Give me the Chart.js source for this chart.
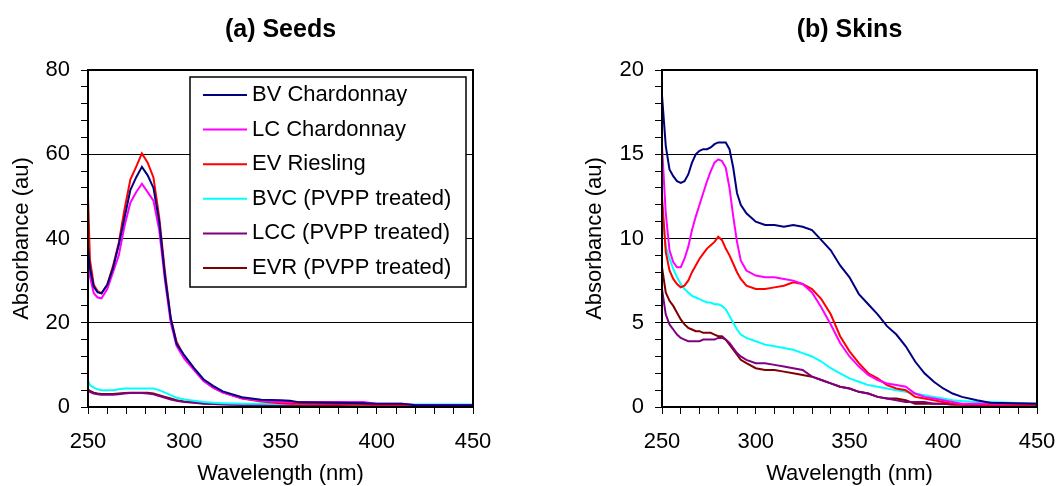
<!DOCTYPE html>
<html>
<head>
<meta charset="utf-8">
<script src="https://cdn.jsdelivr.net/npm/chart.js@4.4.1/dist/chart.umd.min.js"></script>
<style>
body{margin:0;background:#fff;width:1057px;height:486px;overflow:hidden;position:relative}
canvas{position:absolute;top:0}
</style>
</head>
<body>
<canvas id="seeds" width="520" height="486" style="left:0"></canvas>
<canvas id="skins" width="517" height="486" style="left:540px"></canvas>
<script>
// series names (legend)
const names = ['BV Chardonnay', 'LC Chardonnay', 'EV Riesling', 'BVC (PVPP treated)', 'LCC (PVPP treated)', 'EVR (PVPP treated)'];
const colors = ['#000080', '#ff00ff', '#ff0000', '#00ffff', '#800080', '#800000'];

// (a) Seeds - wavelength (nm) / absorbance (au)
const seedWl  = [250,251,253,255,257,260,263,266,269,272,275,278,281,284,287,290,293,296,300,305,310,315,320,330,340,350,355,360,380,393,400,413,420,450];
const seedBV  = [38,33,28.5,27.2,27,29,33,38.5,45,51.5,54.5,57,55,52,44,31,21,15,12.3,9.3,6.6,5,3.7,2.3,1.7,1.6,1.5,1.1,1.0,0.9,0.8,0.8,0.4,0.4];
const seedLC  = [37,31,27,26,25.8,28,32,36,43,48.5,51,53,51,49,42,30,20,14.5,11.5,8.8,6.2,4.6,3.4,2.1,1.5,1.2,1.2,1.2,1.2,1.2,0.8,0.8,0.5,0.5];
const seedEV  = [50,35,29,27.5,27,29,33.5,39,47,54,57,60.2,58,54.5,45,32,21,15.5,12,9,6.3,4.6,3.5,2.0,1.3,0.9,0.8,0.8,0.7,0.6,0.5,0.4,0.3,0.3];
const seedBVC = [6.3,5.2,4.6,4.2,4.0,4.0,4.0,4.2,4.4,4.4,4.4,4.4,4.4,4.4,4.0,3.4,2.8,2.2,1.8,1.5,1.2,1.0,0.9,0.8,0.8,0.7,0.7,0.7,0.7,0.6,0.6,0.6,0.6,0.6];
const seedLCC = [4.0,3.6,3.2,3.0,2.9,2.9,2.9,3.0,3.2,3.3,3.3,3.3,3.2,3.0,2.6,2.2,1.8,1.5,1.2,1.0,0.8,0.7,0.6,0.5,0.4,0.3,0.3,0.3,0.3,0.3,0.2,0.2,0.2,0.2];
const seedEVR = [4.2,3.8,3.4,3.2,3.1,3.1,3.1,3.2,3.3,3.4,3.4,3.4,3.4,3.2,2.8,2.4,2.0,1.6,1.3,1.1,0.9,0.8,0.7,0.6,0.5,0.4,0.4,0.4,0.3,0.3,0.3,0.3,0.3,0.3];

// (b) Skins
const skinWl  = [250,252,254,256,258,260,262,264,266,268,270,272,274,276,278,280,282,284,286,288,290,292,295,300,305,310,315,320,325,330,335,340,345,350,355,360,365,370,375,380,385,390,395,400,405,410,418,425,450];
const skinBV  = [18.5,15.5,14.1,13.7,13.4,13.3,13.4,13.8,14.5,15.0,15.2,15.3,15.3,15.4,15.6,15.7,15.7,15.7,15.3,14.2,12.7,12.0,11.5,11.0,10.8,10.8,10.7,10.8,10.7,10.5,9.9,9.3,8.4,7.7,6.7,6.1,5.5,4.8,4.3,3.6,2.7,2.0,1.5,1.1,0.8,0.6,0.4,0.25,0.2];
const skinLC  = [15.5,11.5,9.3,8.6,8.3,8.3,8.8,9.5,10.5,11.3,12.0,12.7,13.4,14.0,14.5,14.7,14.6,14.2,13.0,11.3,9.8,8.7,8.1,7.8,7.7,7.7,7.6,7.5,7.3,6.8,5.9,4.9,3.8,3.0,2.4,1.9,1.6,1.4,1.3,1.2,0.8,0.6,0.5,0.4,0.3,0.2,0.2,0.2,0.2];
const skinEV  = [12.5,9.2,8.1,7.6,7.3,7.1,7.2,7.5,8.0,8.4,8.8,9.1,9.4,9.6,9.8,10.1,9.9,9.4,9.0,8.5,8.0,7.6,7.2,7.0,7.0,7.1,7.2,7.4,7.3,7.0,6.4,5.5,4.2,3.3,2.6,2.0,1.7,1.3,1.1,1.0,0.6,0.5,0.4,0.3,0.2,0.15,0.15,0.1,0.1];
const skinBVC = [12,9.5,8.8,8.2,7.7,7.3,7.0,6.8,6.6,6.5,6.4,6.3,6.2,6.2,6.1,6.1,6.0,5.8,5.4,5.0,4.6,4.3,4.1,3.9,3.7,3.6,3.5,3.4,3.2,3.0,2.7,2.3,2.0,1.7,1.5,1.3,1.2,1.1,1.0,0.9,0.8,0.7,0.6,0.5,0.4,0.35,0.3,0.3,0.2];
const skinLCC = [7.0,5.5,4.9,4.6,4.3,4.1,4.0,3.9,3.9,3.9,3.9,4.0,4.0,4.0,4.0,4.1,4.1,4.0,3.8,3.5,3.2,3.0,2.8,2.6,2.6,2.5,2.4,2.3,2.2,1.8,1.6,1.4,1.2,1.1,0.9,0.8,0.6,0.5,0.4,0.3,0.3,0.3,0.2,0.2,0.15,0.15,0.1,0.1,0.1];
const skinEVR = [8.3,6.8,6.3,6.0,5.6,5.2,4.9,4.7,4.6,4.5,4.5,4.4,4.4,4.4,4.3,4.2,4.2,4.0,3.7,3.4,3.1,2.8,2.6,2.3,2.2,2.2,2.1,2.0,1.9,1.8,1.6,1.4,1.2,1.1,0.9,0.8,0.6,0.5,0.5,0.4,0.2,0.2,0.2,0.2,0.15,0.15,0.1,0.1,0.1];

const FONT = "'Liberation Sans', Arial, sans-serif";
Chart.defaults.font.family = FONT;
Chart.defaults.color = '#000';

// black frame round the plot area
const frame = {
  id: 'frame',
  afterDatasetsDraw(chart) {
    const {ctx, chartArea: a} = chart;
    ctx.save();
    ctx.strokeStyle = '#000';
    ctx.lineWidth = 2;
    ctx.strokeRect(a.left, a.top, a.right - a.left, a.bottom - a.top);
    ctx.restore();
  }
};

// boxed legend inside the plot (seeds only)
const boxLegend = {
  id: 'boxLegend',
  afterDraw(chart, args, opts) {
    if (!opts.show) return;
    const {ctx, chartArea: a} = chart;
    const x = a.left + 102, y = a.top + 7, w = 276, h = 210;
    ctx.save();
    ctx.fillStyle = '#fff';
    ctx.fillRect(x, y, w, h);
    ctx.strokeStyle = '#000';
    ctx.lineWidth = 1.5;
    ctx.strokeRect(x, y, w, h);
    ctx.font = '22px ' + FONT;
    ctx.textBaseline = 'middle';
    chart.data.datasets.forEach((ds, i) => {
      const cy = y + 18 + i * 34.6;
      ctx.strokeStyle = ds.borderColor;
      ctx.lineWidth = 2;
      ctx.beginPath();
      ctx.moveTo(x + 13, cy);
      ctx.lineTo(x + 57, cy);
      ctx.stroke();
      ctx.fillStyle = '#000';
      ctx.fillText(ds.label, x + 62, cy);
    });
    ctx.restore();
  }
};

function makeChart(id, title, wl, series, yMax, yStep, yMajor, yWidth, padRight, yTitlePad, legend) {
  const datasets = series.map((s, i) => ({
    label: names[i],
    data: wl.map((x, j) => ({x: x, y: s[j]})),
    borderColor: colors[i],
    borderWidth: 2,
    pointRadius: 0,
    tension: 0,
    fill: false
  }));
  return new Chart(document.getElementById(id), {
    type: 'line',
    data: {datasets: datasets},
    plugins: [frame, boxLegend],
    options: {
      responsive: false,
      animation: false,
      layout: {padding: {left: 0, right: padRight, top: 0, bottom: 0}},
      plugins: {
        legend: {display: false},
        tooltip: {enabled: false},
        title: {
          display: true, text: title, fullSize: false,
          font: {size: 25, weight: 'bold', lineHeight: 1.2},
          color: '#000',
          padding: {top: 15, bottom: 25}
        },
        boxLegend: {show: legend}
      },
      scales: {
        x: {
          type: 'linear', min: 250, max: 450,
          ticks: {stepSize: 10, autoSkip: false, maxRotation: 0, padding: 15,
                  font: {size: 22}, color: '#000',
                  callback: v => v % 50 === 0 ? v : ''},
          grid: {color: 'rgba(0,0,0,0)', tickColor: '#000', tickLength: 7, lineWidth: 1},
          border: {display: false},
          title: {display: true, text: 'Wavelength (nm)', color: '#000',
                  font: {size: 22, lineHeight: 1}, padding: {top: 0, bottom: 1}},
          afterFit: s => { s.height = 79; s.paddingLeft = 0; s.paddingRight = 0; }
        },
        y: {
          min: 0, max: yMax,
          ticks: {stepSize: yStep, autoSkip: false, padding: 11,
                  font: {size: 22}, color: '#000',
                  callback: v => v % yMajor === 0 ? v : ''},
          grid: {
            color: c => (c.tick && c.tick.value % yMajor === 0 && c.tick.value > 0 && c.tick.value < yMax) ? '#000' : 'rgba(0,0,0,0)',
            tickColor: '#000', tickLength: 7, lineWidth: 1
          },
          border: {display: false},
          title: {display: true, text: 'Absorbance (au)', color: '#000',
                  font: {size: 22, lineHeight: 1}, padding: {top: yTitlePad, bottom: 0}},
          afterFit: s => { s.width = yWidth; s.paddingTop = 0; s.paddingBottom = 0; }
        }
      }
    }
  });
}

makeChart('seeds', '(a) Seeds', seedWl, [seedBV, seedLC, seedEV, seedBVC, seedLCC, seedEVR], 80, 4, 20, 88, 47, 10.7, true);
makeChart('skins', '(b) Skins', skinWl, [skinBV, skinLC, skinEV, skinBVC, skinLCC, skinEVR], 20, 1, 5, 122, 20, 44, false);
</script>
</body>
</html>
